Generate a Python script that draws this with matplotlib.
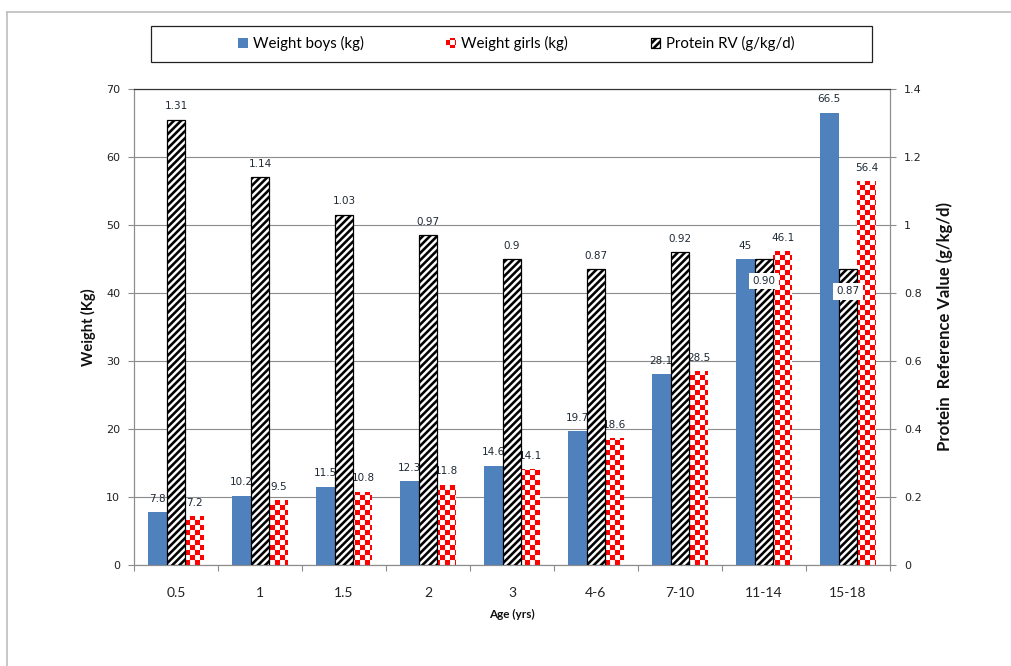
import warnings
warnings.filterwarnings('ignore')
import numpy as np
import matplotlib
matplotlib.use('Agg')
import matplotlib.pyplot as plt
import matplotlib.hatch as mhatch
from matplotlib.path import Path
from matplotlib.lines import Line2D

# ---------------- data ----------------
ages = ['0.5', '1', '1.5', '2', '3', '4-6', '7-10', '11-14', '15-18']
weight_boys = [7.8, 10.2, 11.5, 12.3, 14.6, 19.7, 28.1, 45, 66.5]
weight_girls = [7.2, 9.5, 10.8, 11.8, 14.1, 18.6, 28.5, 46.1, 56.4]
protein_rv = [1.31, 1.14, 1.03, 0.97, 0.90, 0.87, 0.92, 0.90, 0.87]
protein_labels = ['1.31', '1.14', '1.03', '0.97', '0.9', '0.87', '0.92', '0.90', '0.87']
weight_ticks = [0, 10, 20, 30, 40, 50, 60, 70]
protein_ticks = [0, 0.2, 0.4, 0.6, 0.8, 1.0, 1.2, 1.4]


# ---------------- custom hatches ----------------
class CheckerHatch(mhatch.HatchPatternBase):
    def __init__(self, hatch, density):
        self.n = 20 if hatch.count('c') else 0
        self.num_vertices = (self.n * self.n // 2) * 5

    def set_vertices_and_codes(self, vertices, codes):
        n = self.n
        s = 1.0 / n
        i = 0
        for r in range(n):
            for c in range(n):
                if (r + c) % 2 == 0:
                    x0, y0 = c * s, r * s
                    vertices[i:i + 5] = [(x0, y0), (x0 + s, y0), (x0 + s, y0 + s),
                                         (x0, y0 + s), (x0, y0)]
                    codes[i:i + 5] = [Path.MOVETO, Path.LINETO, Path.LINETO,
                                      Path.LINETO, Path.CLOSEPOLY]
                    i += 5


class StripeHatch(mhatch.HatchPatternBase):
    def __init__(self, hatch, density):
        self.m = 14 if hatch.count('d') else 0
        self.count = 2 * self.m + 1 if self.m else 0
        self.num_vertices = self.count * 5

    def set_vertices_and_codes(self, vertices, codes):
        m = self.m
        p = 1.0 / m
        i = 0
        for k in range(-m, m + 1):
            x0 = k * p
            vertices[i:i + 5] = [(x0, 0), (x0 + p * 0.5, 0), (x0 + p * 0.5 + 1, 1),
                                 (x0 + 1, 1), (x0, 0)]
            codes[i:i + 5] = [Path.MOVETO, Path.LINETO, Path.LINETO,
                              Path.LINETO, Path.CLOSEPOLY]
            i += 5


mhatch._hatch_types.append(CheckerHatch)
mhatch._hatch_types.append(StripeHatch)
plt.rcParams['hatch.linewidth'] = 0.05

# ---------------- figure ----------------
fig = plt.figure(figsize=(10.12, 6.66), dpi=100)
ax = fig.add_axes([0.1324, 0.1517, 0.7470, 0.7147])
ax2 = ax.twinx()

x = np.arange(len(ages))
w = 0.225
label_color = '#1f2a36'
grid_color = '#8c8c8c'

b_boys = ax.bar(x - w, weight_boys, w, color='#4F81BD', linewidth=0, zorder=3,
                label='Weight boys (kg)')
b_girls = ax.bar(x + w, weight_girls, w, facecolor='white', edgecolor='#FF0000',
                 linewidth=0, hatch='c', zorder=3, label='Weight girls (kg)')
b_prot = ax2.bar(x, protein_rv, w, facecolor='white', edgecolor='black',
                 linewidth=0.9, hatch='d', zorder=3, label='Protein RV (g/kg/d)')

for xi, v in zip(x, weight_boys):
    ax.annotate(f'{v:g}', (xi - w, v), xytext=(0, 6), textcoords='offset points',
                ha='center', va='bottom', fontsize=7.5, color=label_color,
                family='DejaVu Sans')
for xi, v in zip(x, weight_girls):
    ax.annotate(f'{v:g}', (xi + w, v), xytext=(0, 6), textcoords='offset points',
                ha='center', va='bottom', fontsize=7.5, color=label_color,
                family='DejaVu Sans')
for i, (xi, v, lab) in enumerate(zip(x, protein_rv, protein_labels)):
    if i >= 7:
        ax2.annotate(lab, (xi, v), xytext=(0, -16), textcoords='offset points',
                     ha='center', va='center', fontsize=7.5, color=label_color,
                     family='DejaVu Sans', zorder=5,
                     bbox=dict(boxstyle='square,pad=0.3', facecolor='white',
                               edgecolor='none'))
    else:
        ax2.annotate(lab, (xi, v), xytext=(0, 6), textcoords='offset points',
                     ha='center', va='bottom', fontsize=7.5, color=label_color,
                     family='DejaVu Sans')

# axes limits and ticks
ax.set_xlim(-0.5, len(ages) - 0.5)
ax.set_ylim(0, 70)
ax2.set_ylim(0, 1.4)
ax.set_yticks(weight_ticks)
ax.set_yticklabels([f'{t:g}' for t in weight_ticks])
ax2.set_yticks(protein_ticks)
ax2.set_yticklabels([f'{t:g}' for t in protein_ticks])

ax.set_xticks(x)
ax.set_xticklabels(ages)
ax.set_xticks(np.arange(-0.5, len(ages)), minor=True)
ax.tick_params(axis='x', which='major', length=0, pad=16, labelsize=10,
               labelcolor='#222222')
for t in ax.get_xticklabels():
    t.set_family('Lato')
ax.tick_params(axis='x', which='minor', length=4, width=0.8, color=grid_color,
               direction='out')
ax.tick_params(axis='y', which='major', length=4, width=0.8, color=grid_color,
               direction='out', labelsize=8, labelcolor='#222222', pad=6)
ax2.tick_params(axis='y', which='major', length=4, width=0.8, color=grid_color,
                direction='out', labelsize=8, labelcolor='#222222', pad=6)

ax.yaxis.grid(True, color=grid_color, linewidth=0.8, zorder=0)
ax.set_axisbelow(True)

for a in (ax, ax2):
    for side in ('left', 'right', 'bottom'):
        a.spines[side].set_color(grid_color)
        a.spines[side].set_linewidth(0.8)
    a.spines['top'].set_color('#333333')
    a.spines['top'].set_linewidth(0.8)

ax.set_ylabel('Weight (Kg)', fontsize=10.5, fontweight='bold', family='Lato',
              color='#111111', labelpad=7)
ax2.set_ylabel('Protein  Reference Value (g/kg/d)', fontsize=12, fontweight='bold',
               family='Lato', color='#111111', labelpad=11)
ax.set_xlabel('Age (yrs)', fontsize=8.5, fontweight='bold', family='Lato',
              color='#111111', labelpad=7)

# legend with frame box
leg = fig.legend(handles=[b_boys, b_girls, b_prot], loc='center',
                 bbox_to_anchor=(0.510, 0.934), ncol=3, frameon=False,
                 prop={'family': 'Lato', 'size': 10.8}, handlelength=0.65,
                 handleheight=0.65, handletextpad=0.35, columnspacing=5.5)
fig.patches.append(matplotlib.patches.Rectangle(
    (151 / 1012, 1 - 62 / 666), (872 - 151) / 1012, 36 / 666,
    transform=fig.transFigure, fill=False, edgecolor='#222222', linewidth=0.9))

# outer chart border (top and left)
fig.add_artist(Line2D([7 / 1012, 1.0], [1 - 12 / 666, 1 - 12 / 666],
                      transform=fig.transFigure, color='#bdbdbd', linewidth=1.2))
fig.add_artist(Line2D([7 / 1012, 7 / 1012], [0.0, 1 - 12 / 666],
                      transform=fig.transFigure, color='#bdbdbd', linewidth=1.2))

fig.savefig('out.png', dpi=100)
